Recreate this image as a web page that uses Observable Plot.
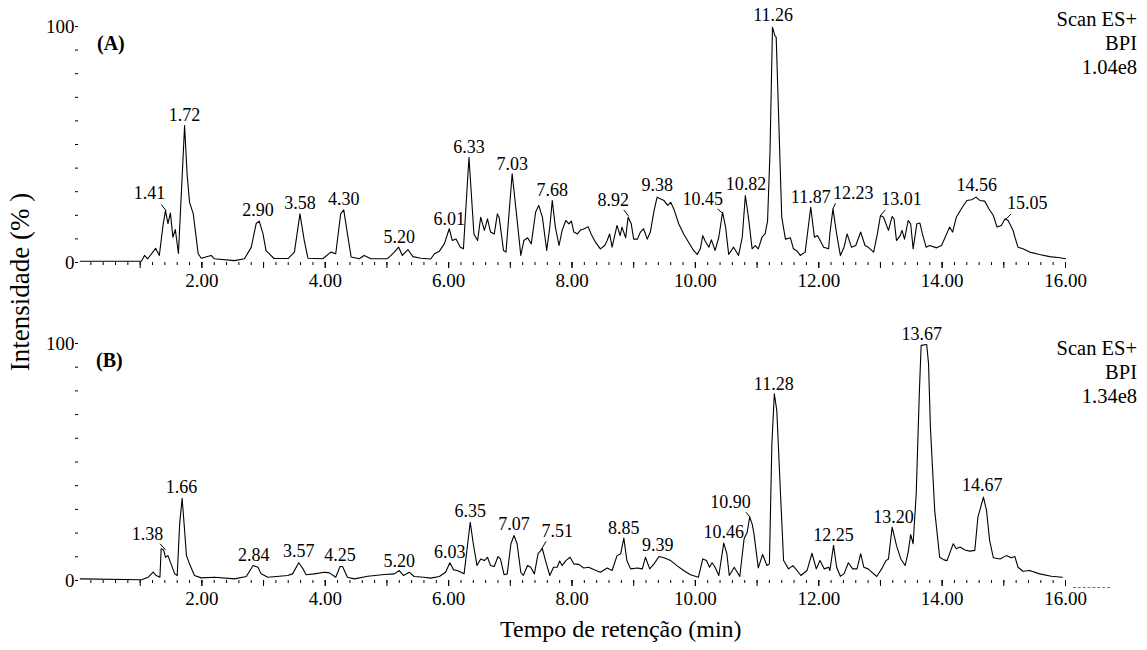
<!DOCTYPE html>
<html>
<head>
<meta charset="utf-8">
<script src="https://cdn.jsdelivr.net/npm/d3@7"></script>
<script src="https://cdn.jsdelivr.net/npm/@observablehq/plot@0.6"></script>
<style>
  html, body { margin: 0; padding: 0; background: #fff; }
  #chart { position: relative; width: 1147px; height: 650px; overflow: hidden; background: #fff;
           font-family: "Liberation Serif", "DejaVu Serif", serif; color: #000; }
  #chart .abs { position: absolute; white-space: nowrap; }
  #chart svg text { font-family: "Liberation Serif", "DejaVu Serif", serif; }
</style>
</head>
<body>
<div id="chart"></div>
<script>
// ---------- Panel (A): retention time (min) and relative intensity (%) ----------
const rtA = [0.03,1.02,1.07,1.12,1.25,1.31,1.37,1.41,1.45,1.49,1.53,1.57,1.62,1.72,1.76,1.80,1.86,1.94,1.99,2.15,2.20,2.53,2.69,2.80,2.88,2.93,2.99,3.04,3.17,3.40,3.50,3.59,3.66,3.72,3.96,4.09,4.17,4.25,4.30,4.36,4.42,4.55,4.63,4.74,5.01,5.12,5.19,5.25,5.34,5.42,5.55,5.71,5.77,5.85,5.93,6.01,6.06,6.12,6.19,6.24,6.33,6.41,6.47,6.52,6.58,6.63,6.68,6.74,6.79,6.82,6.89,6.93,7.03,7.10,7.17,7.22,7.28,7.34,7.41,7.46,7.52,7.59,7.64,7.68,7.73,7.79,7.84,7.90,7.95,7.99,8.03,8.09,8.14,8.20,8.26,8.31,8.38,8.46,8.53,8.57,8.61,8.65,8.73,8.78,8.81,8.87,8.91,8.96,9.00,9.06,9.11,9.16,9.22,9.27,9.33,9.38,9.43,9.49,9.55,9.60,9.65,9.73,9.81,9.89,9.97,10.03,10.08,10.12,10.16,10.22,10.26,10.32,10.38,10.44,10.49,10.54,10.62,10.70,10.76,10.81,10.86,10.92,10.97,11.02,11.08,11.13,11.17,11.21,11.25,11.29,11.31,11.35,11.40,11.46,11.54,11.59,11.65,11.70,11.78,11.87,11.93,11.98,12.08,12.16,12.18,12.23,12.29,12.35,12.41,12.46,12.53,12.60,12.68,12.75,12.80,12.89,12.95,13.00,13.05,13.13,13.19,13.22,13.26,13.32,13.35,13.39,13.45,13.49,13.53,13.59,13.64,13.68,13.74,13.80,13.91,13.99,14.05,14.12,14.17,14.23,14.31,14.40,14.48,14.55,14.61,14.69,14.76,14.83,14.89,14.96,15.02,15.07,15.11,15.15,15.18,15.23,15.31,15.42,15.58,15.74,15.91,16.00];
const intA = [0.5,0.5,3,1.5,6,3,15.7,22,16.5,21,10.7,14,3.8,58,37.6,25.5,20.7,3.7,1.8,3,1.6,0.8,1.6,6.4,16.5,17.5,12.2,5,1.7,1.7,4.4,20.6,9.3,1.8,1.6,4.4,3.7,20.6,22.3,12,2.3,1.6,3,1.6,1.6,4.4,6.5,3,5.5,2.5,1.8,1.5,3.7,4.8,7.9,14.3,9.3,10,6.5,5.8,44.6,12.1,9.3,19.2,13.6,18.5,12.9,12.1,20.6,19,5.1,4.4,37.6,20.6,3,9.3,10.5,7.9,21.3,24.2,19.2,5.1,15,26.3,15,7.2,13.6,17.8,16.4,17.5,12.9,12.1,13.8,14.3,15.2,12.1,8.6,5.8,7.2,9.3,12.1,6.5,15.7,11.4,15,10.5,19.2,16.4,9.9,9.9,12.9,14.3,9.9,12.9,22,27.7,27,26.3,24.2,25.5,22.7,16.4,12.1,8.6,5.1,3.4,5.8,11.4,9,6.5,9.6,5.1,10.7,21.3,15,3.4,6.5,3,10.7,28.4,19.2,5.8,7.2,5.8,10.7,12.1,17.5,47,99.7,96,95.5,61.6,19.2,9.9,10.5,5.8,4.8,3,4.4,23.4,10.7,11.4,6.5,5.8,12.1,22.7,12.1,3,6.5,12.1,6.5,7.2,12.9,7.2,6.5,4.4,12.1,19.9,19.2,13.6,19.5,18.5,9.3,11.4,13.6,9.9,17.8,16.4,5.8,16.4,16.7,12.1,6.5,7.2,6.2,7.2,10.7,15,12.9,19.2,22.7,26.3,26.6,27.7,26.3,26,22.7,19.9,15,15.7,18.5,17.8,15.7,13.6,10.7,6.5,5.8,4.4,3.4,2.5,2,1.6];

// Peak annotations (A): labelled retention time, where the label sits
const peakRtA     = [1.41,1.72,2.90,3.58,4.30,5.20,6.01,6.33,7.03,7.68,8.92,9.38,10.45,10.82,11.26,11.87,12.23,13.01,14.56,15.05];
const labelRtA    = [1.15,1.72,2.91,3.59,4.30,5.20,6.01,6.33,7.03,7.68,8.67,9.38,10.12,10.82,11.26,11.87,12.56,13.34,14.56,15.38];
const labelIntA   = [29.2,62.3,22,25,26.6,10.7,18.5,48.9,41.8,30.8,26.3,32.6,26.6,33,104.7,27.7,29.4,26.6,32.6,25.1];
// leader lines (A): from label to peak
const leadRt1A  = [1.34, 8.84, 10.36, 12.27, 13.08, 15.12];
const leadInt1A = [24.6, 22.3, 22.7, 25.1, 22.3, 20.6];
const leadRt2A  = [1.42, 8.92, 10.44, 12.23, 13.00, 15.04];
const leadInt2A = [22, 19.5, 20.9, 22.7, 19.9, 18.5];

// ---------- Panel (B) ----------
const rtB = [0.03,1.02,1.13,1.21,1.26,1.32,1.34,1.38,1.41,1.45,1.50,1.56,1.60,1.64,1.68,1.72,1.75,1.80,1.88,1.99,2.21,2.53,2.72,2.83,2.91,2.96,3.07,3.39,3.47,3.57,3.64,3.69,3.82,3.99,4.07,4.17,4.24,4.28,4.36,4.47,4.69,4.96,5.12,5.20,5.27,5.36,5.44,5.60,5.71,5.85,5.95,6.02,6.08,6.14,6.25,6.29,6.35,6.40,6.46,6.52,6.58,6.63,6.68,6.74,6.80,6.84,6.90,6.95,7.01,7.06,7.11,7.17,7.21,7.28,7.33,7.39,7.45,7.52,7.57,7.64,7.70,7.76,7.80,7.84,7.90,7.97,8.03,8.11,8.19,8.27,8.36,8.46,8.57,8.65,8.73,8.79,8.84,8.89,8.95,9.06,9.14,9.19,9.26,9.33,9.41,9.49,9.60,9.70,9.81,9.92,10.05,10.12,10.18,10.23,10.27,10.32,10.38,10.46,10.51,10.55,10.63,10.72,10.79,10.84,10.88,10.92,10.95,11.02,11.09,11.16,11.20,11.24,11.28,11.32,11.38,11.43,11.51,11.58,11.65,11.71,11.81,11.89,11.96,12.02,12.09,12.16,12.18,12.24,12.29,12.35,12.41,12.48,12.55,12.62,12.68,12.73,12.80,12.86,12.94,13.02,13.09,13.13,13.19,13.26,13.33,13.40,13.45,13.49,13.53,13.58,13.63,13.66,13.75,13.78,13.81,13.88,13.96,14.03,14.08,14.14,14.18,14.23,14.29,14.37,14.45,14.53,14.58,14.67,14.72,14.77,14.83,14.94,15.04,15.12,15.18,15.23,15.31,15.42,15.58,15.77,15.95];
const intB = [0.7,0.3,1.4,3.5,2.1,1.4,13.4,12.9,9.8,10.5,7,2.8,2.1,23.9,34.7,21.1,10.5,7,2.1,1.1,1.4,0.7,1.7,6.3,5.6,2.8,1.4,2.1,2.8,7.5,4.9,2.4,2.8,3.5,3.2,1.4,5.9,5.9,1.4,0.7,1.8,2.5,2.8,4.2,2.1,3.5,1.7,1.4,1,1.7,3.5,7.5,4.5,4.2,2.8,11.3,24.6,15.5,6.3,9.1,8.4,9.8,6.3,5.9,10.1,9.1,2.4,2.8,15.5,19,15.5,3.5,2.1,6.3,5.6,2.8,11.3,13.4,8.4,2.1,5.6,5.6,8.2,6.3,8.4,9.8,7,6.8,5.3,5.6,4.5,3.5,5.3,4.2,10.5,11.3,17.9,8.4,4.9,5.3,4.9,9.8,4.9,7,10.1,9.6,8.4,6.3,4.2,2.4,1.4,9.1,8.4,5.6,7.5,5.6,2.1,15.8,11.3,2.1,5.6,1.7,17.6,20.4,26.7,23.9,19.7,5.3,11,6.3,7,57.7,78.8,71.7,36.6,8.4,4.9,6.3,4.2,2.1,4.2,11.5,4.9,8.4,4.9,5.6,4.2,14.8,5.6,1.8,2.8,7.5,4.9,4.9,11.3,5.6,4.9,3.5,1.7,4.9,8.4,9.1,22.5,14.8,9.1,6.3,12,19.4,15.5,36.6,78.8,99.2,99.6,91.4,64.7,29.5,9.8,8.7,8.4,12.7,15.5,13.4,14.1,12.9,12.4,12.7,26.7,35.2,29.5,16.9,9.6,9.1,10.5,9.6,10.1,5.6,3.9,4.2,2.8,1.8,1.4];

const peakRtB   = [1.38,1.66,2.84,3.57,4.25,5.20,6.03,6.35,7.07,7.51,8.85,9.39,10.46,10.90,11.28,12.25,13.20,13.67,14.67];
const labelRtB  = [1.12,1.67,2.84,3.57,4.24,5.20,6.02,6.35,7.06,7.76,8.84,9.39,10.46,10.57,11.27,12.24,13.21,13.67,14.65];
const labelIntB = [19.7,39.4,10.5,12.4,10.5,8.1,11.9,29.2,23.6,20.7,22.2,14.8,20.4,33,82.7,19,26.5,103.8,40.1];
const leadRt1B  = [1.32, 7.58, 10.82];
const leadInt1B = [15.5, 16.5, 28.8];
const leadRt2B  = [1.41, 7.50, 10.89];
const leadInt2B = [13, 13, 26.7];

// ---------- Axis ticks and texts ----------
const xMinorTicks = d3.range(1, 80).map(i => i * 0.2);
const xMidTicks   = d3.range(1, 17);
const xLabelTicks = [2, 4, 6, 8, 10, 12, 14, 16];
const yTicks      = d3.range(0, 101, 10);
const panelTags   = ["(A)", "(B)"];
const infoA = ["Scan ES+", "BPI", "1.04e8"];
const infoB = ["Scan ES+", "BPI", "1.34e8"];
const xTitle = "Tempo de retenção (min)";
const yTitle = "Intensidade (% )";

const FONT = "\"Liberation Serif\", \"DejaVu Serif\", serif";

function panel(rt, inten, peakRt, labelRt, labelInt, l1x, l1y, l2x, l2y, height, marginTop, marginBottom) {
  const trace = rt.map((t, i) => ({t, v: inten[i]}));
  const labels = peakRt.map((p, i) => ({text: p.toFixed(2), x: labelRt[i], y: labelInt[i]}));
  const leaders = l1x.map((x, i) => ({x1: x, y1: l1y[i], x2: l2x[i], y2: l2y[i]}));
  return Plot.plot({
    width: 1147, height, marginLeft: 78, marginRight: 82, marginTop, marginBottom,
    x: {domain: [0, 16]},
    y: {domain: [0, 100]},
    style: {background: "white", color: "black", fontFamily: FONT, fontSize: "18px", overflow: "visible"},
    marks: [
      Plot.axisX({ticks: xMinorTicks, tickSize: 3, tickFormat: () => "", label: null, line: true}),
      Plot.axisX({ticks: xMidTicks, tickSize: 6, tickFormat: () => "", label: null}),
      Plot.axisX({ticks: xLabelTicks, tickSize: 6, tickPadding: 5, tickFormat: d3.format(".2f"), fontSize: 19, label: null}),
      Plot.axisY({ticks: yTicks, tickSize: 3, tickPadding: 1, fontSize: 19, label: null, line: true,
                  tickFormat: d => (d === 0 || d === 100) ? String(d) : ""}),
      Plot.line(trace, {x: "t", y: "v", stroke: "black", strokeWidth: 1.1, curve: "linear"}),
      Plot.link(leaders, {x1: "x1", y1: "y1", x2: "x2", y2: "y2", stroke: "black", strokeWidth: 1}),
      Plot.text(labels, {x: "x", y: "y", text: "text", fontSize: 18, fill: "black"})
    ]
  });
}

const chart = document.getElementById("chart");

const plotA = panel(rtA, intA, peakRtA, labelRtA, labelIntA, leadRt1A, leadInt1A, leadRt2A, leadInt2A, 300, 26, 38);
plotA.style.position = "absolute"; plotA.style.left = "0px"; plotA.style.top = "0px";
chart.appendChild(plotA);

const plotB = panel(rtB, intB, peakRtB, labelRtB, labelIntB, leadRt1B, leadInt1B, leadRt2B, leadInt2B, 310, 43, 30);
plotB.style.position = "absolute"; plotB.style.left = "0px"; plotB.style.top = "300px";
chart.appendChild(plotB);

function addText(txt, css) {
  const d = document.createElement("div");
  d.className = "abs";
  d.textContent = txt;
  Object.assign(d.style, css);
  chart.appendChild(d);
  return d;
}

addText(panelTags[0], {left: "97px", top: "33px", fontSize: "20px", fontWeight: "bold", lineHeight: "20px"});
addText(panelTags[1], {left: "96px", top: "350px", fontSize: "20px", fontWeight: "bold", lineHeight: "20px"});

function addInfo(lines, top) {
  const d = addText("", {right: "10px", top: top + "px", fontSize: "20.5px", lineHeight: "24px", textAlign: "right"});
  d.innerHTML = lines.map(s => s.replace(/&/g, "&amp;").replace(/</g, "&lt;")).join("<br>");
}
addInfo(infoA, 7);
addInfo(infoB, 336);

addText(xTitle, {left: "500px", top: "617px", fontSize: "24px", lineHeight: "24px"});
addText(yTitle, {left: "20px", top: "282px", fontSize: "27px", lineHeight: "30px",
                 transform: "translate(-50%, -50%) rotate(-90deg)"});

const dash = document.createElement("div");
Object.assign(dash.style, {position: "absolute", left: "1073px", top: "587px", width: "37px", borderTop: "1px dashed #777"});
chart.appendChild(dash);
</script>
</body>
</html>
